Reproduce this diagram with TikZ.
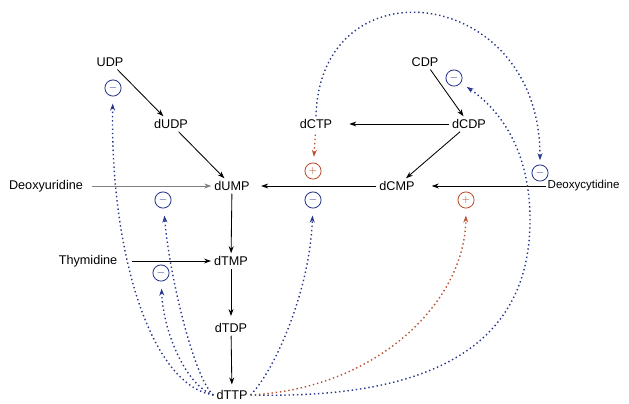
\documentclass[tikz,border=0pt]{standalone}
\usepackage{fontspec}
\setmainfont{Liberation Sans}
\usetikzlibrary{arrows.meta,positioning}
\definecolor{inhblue}{RGB}{40,55,140}
\definecolor{actred}{RGB}{185,80,45}
\tikzset{
  met/.style={font=\fontsize{9}{11}\selectfont,inner sep=2pt},
  inhcirc/.style={circle,draw=inhblue,semithick,minimum size=11.5pt,inner sep=0pt,font=\scriptsize,text=inhblue},
  actcirc/.style={circle,draw=actred,semithick,minimum size=11.5pt,inner sep=0pt,font=\scriptsize,text=actred},
  arr/.style={-{Stealth[length=5pt,width=3.5pt]},semithick},
  grarr/.style={arr,draw=gray},
  inharr/.style={-{Stealth[length=5pt,width=3.5pt]},inhblue,dotted,line width=1pt,shorten >=5pt},
  actarr/.style={-{Stealth[length=5pt,width=3.5pt]},actred,dotted,line width=1pt,shorten >=5pt}
}
\begin{document}
\begin{tikzpicture}[x=0.025cm,y=-0.025cm]
  \useasboundingbox (0,0) rectangle (629,403);

  % uridine / thymidine side
  \node[met] (UDP) at (110,62) {UDP};
  \node[met] (dUDP) at (171,124) {dUDP};
  \node[met] (dUMP) at (232,186) {dUMP};
  \node[met] (deoxyU) at (46,186) {Deoxyuridine};
  \node[met] (thym) at (88,261) {Thymidine};
  \node[met] (dTMP) at (231,261) {dTMP};
  \node[met] (dTDP) at (231,328) {dTDP};
  \node[met] (dTTP) at (232,395) {dTTP};

  % cytidine side
  \node[met] (CDP) at (425,62) {CDP};
  \node[met] (dCDP) at (469,124) {dCDP};
  \node[met] (dCTP) at (316,124) {dCTP};
  \node[met] (dCMP) at (397,186) {dCMP};
  \node[met,anchor=west,inner sep=1pt,font=\fontsize{8.2}{10}\selectfont] (deoxyC) at (546,186) {Deoxycytidine};

  % regulation marks
  \node[inhcirc] (iUDP) at (113,88) {$-$};
  \node[inhcirc] (iDU) at (163,200) {$-$};
  \node[inhcirc] (iThy) at (161,273) {$-$};
  \node[inhcirc] (iDC) at (313,200) {$-$};
  \node[inhcirc] (iCDP) at (454,78) {$-$};
  \node[inhcirc] (iDCy) at (540,173) {$-$};
  \node[actcirc] (aDU) at (313,171) {$+$};
  \node[actcirc] (aDC) at (466,200) {$+$};

  \draw[arr] (UDP) -- (dUDP);
  \draw[arr] (dUDP) -- (dUMP);
  \draw[grarr,shorten <=4pt] (deoxyU) -- (dUMP);
  \draw[arr,shorten >=6pt] (dCMP) -- (dUMP);
  \draw[arr] (dUMP) -- (dTMP);
  \draw[arr,shorten <=8pt] (thym) -- (dTMP);
  \draw[arr,shorten >=3pt] (dTMP) -- (dTDP);
  \draw[arr,shorten >=2pt] (dTDP) -- (dTTP);
  \draw[arr] (CDP) -- (dCDP);
  \draw[arr,shorten >=10pt] (dCDP) -- (dCTP);
  \draw[arr] (dCDP) -- (dCMP);
  \draw[arr,shorten >=10pt] (deoxyC) -- (dCMP);

  \draw[inharr] (dTTP.west) .. controls (150,385) and (110,250) .. (iUDP);
  \draw[inharr] (dTTP.west) .. controls (195,380) and (170,280) .. (iDU);
  \draw[inharr] (dTTP.west) .. controls (185,385) and (163,330) .. (iThy);
  \draw[inharr] (dTTP.east) .. controls (275,370) and (310,290) .. (iDC);
  \draw[inharr] (dTTP.east) .. controls (455,400) and (530,330) .. (530,220)
    .. controls (530,150) and (500,110) .. (iCDP);
  \draw[actarr] (dTTP.east) .. controls (380,388) and (465,300) .. (aDC);
  \draw[actarr,shorten <=2pt,shorten >=4pt] (dCTP) -- (aDU);
  \draw[inharr,shorten >=3pt] (dCTP.north) .. controls (320,-40) and (540,-15) .. (iDCy);
\end{tikzpicture}
\end{document}
